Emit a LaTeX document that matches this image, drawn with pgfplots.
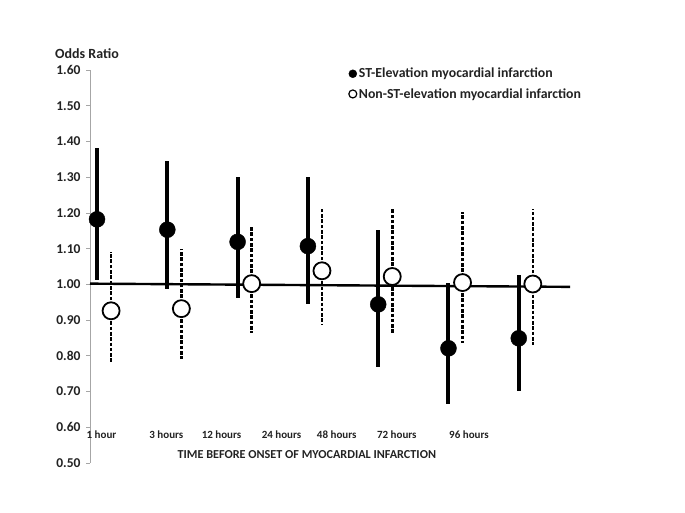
\documentclass[border=0pt]{standalone}
\usepackage{fontspec}
\setmainfont{Carlito}
\usepackage{pgfplots}
\pgfplotsset{compat=1.18}
\usepackage{pgfplotstable}
\definecolor{txt}{HTML}{222222}
\definecolor{axgray}{HTML}{A6A6A6}

% STEMI: odds ratio with distance to upper / lower confidence limit
\pgfplotstableread{
x    y     ep    em
0.9  1.182 0.199 0.170
1.9  1.153 0.193 0.167
2.9  1.119 0.182 0.158
3.9  1.107 0.194 0.162
4.9  0.944 0.208 0.174
5.9  0.821 0.184 0.156
6.9  0.849 0.177 0.147
}\stemi
% NSTEMI
\pgfplotstableread{
x    y     ep    em
1.1  0.926 0.165 0.142
2.1  0.932 0.166 0.142
3.1  1.002 0.161 0.139
4.1  1.038 0.172 0.152
5.1  1.022 0.188 0.159
6.1  1.005 0.198 0.170
7.1  1.001 0.209 0.171
}\nstemi

\begin{document}
\begin{tikzpicture}
\useasboundingbox (0,0) rectangle (685pt,513pt);
\begin{axis}[
  at={(90pt,50pt)}, anchor=south west,
  scale only axis, width=485pt, height=393pt,
  xmin=0.8, xmax=7.7, ymin=0.5, ymax=1.6,
  axis x line=none,
  axis y line=left,
  y axis line style={-, draw=axgray, line width=0.8pt},
  ytick={0.5,0.6,0.7,0.8,0.9,1.0,1.1,1.2,1.3,1.4,1.5,1.6},
  tick align=outside, major tick length=4pt,
  ytick style={draw=axgray, line width=0.8pt},
  /pgf/number format/assume math mode=true,
  yticklabel style={/pgf/number format/.cd, fixed, fixed zerofill, precision=2,
    /tikz/.cd, font=\fontsize{13.5}{15}\selectfont\bfseries, text=txt, xshift=-2pt},
  clip=false,
  legend style={at={(axis description cs:0.532,1.009)}, anchor=north west,
    draw=none, fill=none, inner sep=0pt, row sep=6pt,
    font=\fontsize{13.8}{15}\selectfont\bfseries, text=txt,
    nodes={inner sep=1.5pt}},
  legend cell align=left,
]
% legend entries
\addlegendimage{legend image code/.code={\fill[black] (0pt,0pt) circle (4pt);}}
\addlegendentry{ST-Elevation myocardial infarction}
\addlegendimage{legend image code/.code={\draw[black, line width=1.2pt] (0pt,0pt) circle (4pt);}}
\addlegendentry{Non-ST-elevation myocardial infarction}

% confidence intervals
\addplot[draw=none, mark=none, forget plot,
  error bars/.cd, y dir=both, y explicit, error mark=none,
  error bar style={black, line width=4pt}]
  table[x=x, y=y, y error plus=ep, y error minus=em] {\stemi};
\addplot[draw=none, mark=none, forget plot,
  error bars/.cd, y dir=both, y explicit, error mark=none,
  error bar style={black, line width=2.6pt, dash pattern=on 3.6pt off 1.7pt}]
  table[x=x, y=y, y error plus=ep, y error minus=em] {\nstemi};
% point estimates
\addplot[only marks, forget plot, mark=*, mark size=8pt,
  mark options={fill=black, draw=black}]
  table[x=x, y=y] {\stemi};
\addplot[only marks, forget plot, mark=*, mark size=8.5pt,
  mark options={fill=white, draw=black, line width=1.8pt}]
  table[x=x, y=y] {\nstemi};
% reference line
\addplot[black, line width=2.4pt, mark=none, forget plot]
  coordinates {(0.8,1.002) (7.63,0.993)};

% category labels
\foreach \p/\t in {0.964/1 hour, 1.886/3 hours, 2.671/12 hours, 3.525/24 hours,
                   4.310/48 hours, 5.165/72 hours, 6.192/96 hours}{
  \edef\tmp{\noexpand\node[font=\noexpand\fontsize{11}{12}\noexpand\selectfont\noexpand\bfseries, text=txt] at (axis cs:\p,0.580) {\t};}\tmp
}
\end{axis}
\node[font=\fontsize{12.2}{14}\selectfont\bfseries, text=txt] at (306.8pt,58pt)
  {TIME BEFORE ONSET OF MYOCARDIAL INFARCTION};
\node[font=\fontsize{14}{16}\selectfont\bfseries, text=txt, anchor=west, inner sep=0pt]
  at (55pt,459pt) {Odds Ratio};
\end{tikzpicture}
\end{document}
